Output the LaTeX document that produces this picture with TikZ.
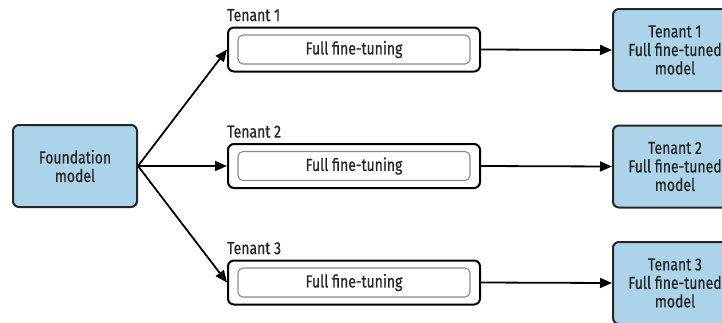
\documentclass[tikz,border=0pt]{standalone}
\usepackage{fontspec}
\setmainfont[FakeStretch=0.8,FakeBold=0.6]{Fira Sans}
\usetikzlibrary{arrows.meta}
\definecolor{boxblue}{HTML}{ABD3EA}
\definecolor{ink}{HTML}{262626}
\definecolor{innergrey}{HTML}{8A8A8A}
\begin{document}
\begin{tikzpicture}[x=1pt,y=-1pt,
  txt/.style={text=ink,font=\fontsize{17.5}{18.5}\selectfont},
  modelbox/.style={txt,draw=ink,line width=2pt,fill=boxblue,rounded corners=6pt,
    minimum width=124pt,minimum height=82pt,align=center,inner sep=0pt},
  outerbox/.style={draw=black,line width=2pt,rounded corners=6pt,
    minimum width=252pt,minimum height=44pt,inner sep=0pt},
  innerbox/.style={txt,draw=innergrey,line width=1.1pt,rounded corners=5pt,
    minimum width=232pt,minimum height=29pt,inner sep=0pt},
  lbl/.style={txt,anchor=south west,inner sep=0pt},
  arr/.style={draw=black,line width=1.8pt,-{Triangle[length=12pt,width=10pt]}}]
\useasboundingbox (0,0) rectangle (722,322);
\clip (0,0) rectangle (722,322);

% source model
\node[modelbox] (found) at (75,166) {Foundation\\model};

% per-tenant fine-tuning jobs
\node[outerbox] (t1) at (354,49.5) {};
\node[innerbox] (j1) at (t1) {Full fine-tuning};
\node[lbl] (l1) at ([yshift=5pt]t1.north west) {Tenant 1};

\node[outerbox] (t2) at (354,166) {};
\node[innerbox] (j2) at (t2) {Full fine-tuning};
\node[lbl] (l2) at ([yshift=5pt]t2.north west) {Tenant 2};

\node[outerbox] (t3) at (354,282.5) {};
\node[innerbox] (j3) at (t3) {Full fine-tuning};
\node[lbl] (l3) at ([yshift=5pt]t3.north west) {Tenant 3};

% resulting models
\node[modelbox] (m1) at (675,50) {Tenant 1\\Full fine-tuned\\model};
\node[modelbox] (m2) at (675,166.5) {Tenant 2\\Full fine-tuned\\model};
\node[modelbox] (m3) at (675,283) {Tenant 3\\Full fine-tuned\\model};

% connectors
\draw[arr] (found.east) -- (t1.west);
\draw[arr] (found.east) -- (t2.west);
\draw[arr] (found.east) -- (t3.west);
\draw[arr] (t1.east) -- (m1.west);
\draw[arr] (t2.east) -- (m2.west);
\draw[arr] (t3.east) -- (m3.west);
\end{tikzpicture}
\end{document}
